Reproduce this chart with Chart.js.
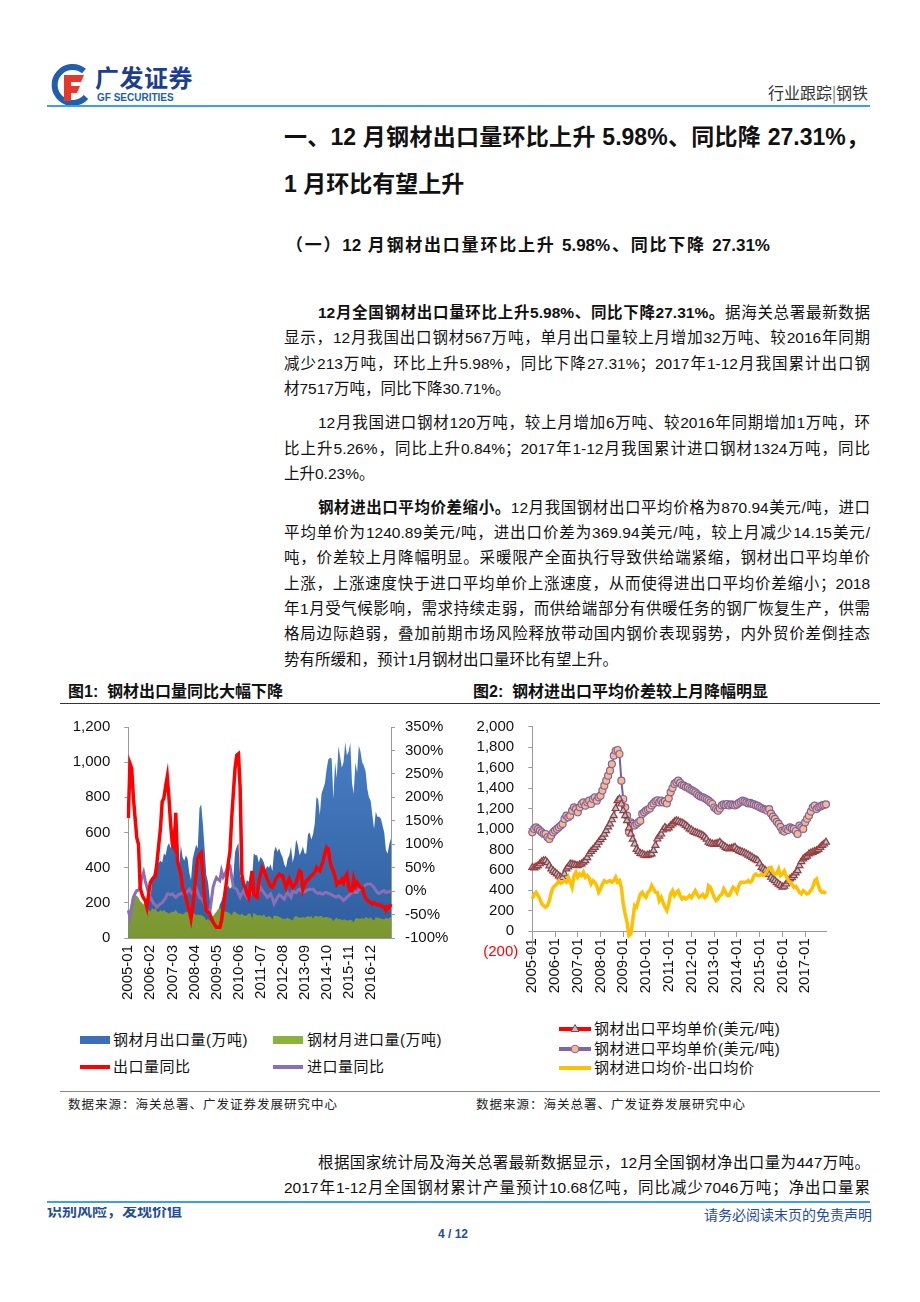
<!DOCTYPE html>
<html lang="zh-CN">
<head>
<meta charset="utf-8">
<script src="https://cdn.jsdelivr.net/npm/chart.js@4.4.1/dist/chart.umd.min.js"></script>
<style>
body { margin:0; width:920px; height:1302px; position:relative; overflow:hidden; background:#fff; color:#111;
  font-family:"Liberation Sans Narrow","Liberation Sans","Noto Sans CJK SC",sans-serif; }
.abs { position:absolute; white-space:nowrap; }
.ln { position:absolute; left:284px; width:586px; height:22px; line-height:22px; font-size:15.5px; white-space:nowrap;
  text-align:justify; text-align-last:justify; }
.ln.ind { left:318px; width:552px; }
.ln.end { text-align-last:left; }
.hline { position:absolute; height:0; }
.figt { position:absolute; font-weight:bold; font-size:16px; line-height:20px; white-space:nowrap; }
.src { position:absolute; font-size:12.5px; letter-spacing:1px; line-height:16px; white-space:nowrap; color:#222; font-family:"Noto Sans CJK SC",sans-serif; }
.lg { position:absolute; font-size:15px; line-height:20px; white-space:nowrap; font-family:"Liberation Sans","Noto Sans CJK SC",sans-serif; letter-spacing:0.5px; }
</style>
</head>
<body>

<!-- 页眉 -->
<svg class="abs" style="left:50px;top:63px" width="42" height="44" viewBox="0 0 42 44">
  <path d="M34 8 A18 18 0 1 0 36 34" fill="none" stroke="#1f5fae" stroke-width="6"/>
  <path d="M14 12 H34 L31 19 H21 V23 H30 L27 30 H21 V38 H14 Z" fill="#e8382b"/>
</svg>
<div class="abs" style="left:95px;top:63px;font-size:24px;font-weight:bold;color:#1b3e8f;font-family:'Noto Sans CJK SC',sans-serif;line-height:28px;letter-spacing:0.5px">广发证券</div>
<div class="abs" style="left:97px;top:92px;font-size:10px;font-weight:bold;color:#1b5fae;line-height:12px;font-family:'Liberation Sans',sans-serif">GF SECURITIES</div>
<div class="abs" style="right:52px;top:82px;font-size:16px;color:#333;line-height:20px;font-family:'Noto Sans CJK SC',sans-serif">行业跟踪<span style="font-weight:300">|</span>钢铁</div>
<div class="hline" style="left:47px;top:105px;width:823px;border-top:2px solid #3ea2da"></div>

<!-- 标题 -->
<div class="ln" style="left:284px;width:585px;top:122px;height:30px;line-height:30px;font-size:23px;font-weight:bold">一、12 月钢材出口量环比上升 5.98%、同比降 27.31%，</div>
<div class="ln end" style="left:284px;top:169px;height:30px;line-height:30px;font-size:23px;font-weight:bold">1 月环比有望上升</div>
<div class="ln" style="left:286px;width:484px;top:235px;font-size:17px;font-weight:bold">（一）12 月钢材出口量环比上升 5.98%、同比下降 27.31%</div>

<!-- 正文 -->
<div class="ln ind" style="top:302px"><b>12月全国钢材出口量环比上升5.98%、同比下降27.31%。</b>据海关总署最新数据</div>
<div class="ln" style="top:327px">显示，12月我国出口钢材567万吨，单月出口量较上月增加32万吨、较2016年同期</div>
<div class="ln" style="top:353px">减少213万吨，环比上升5.98%，同比下降27.31%；2017年1-12月我国累计出口钢</div>
<div class="ln end" style="top:378px">材7517万吨，同比下降30.71%。</div>

<div class="ln ind" style="top:412px">12月我国进口钢材120万吨，较上月增加6万吨、较2016年同期增加1万吨，环</div>
<div class="ln" style="top:438px">比上升5.26%，同比上升0.84%；2017年1-12月我国累计进口钢材1324万吨，同比</div>
<div class="ln end" style="top:463px">上升0.23%。</div>

<div class="ln ind" style="top:497px"><b>钢材进出口平均价差缩小。</b>12月我国钢材出口平均价格为870.94美元/吨，进口</div>
<div class="ln" style="top:522px">平均单价为1240.89美元/吨，进出口价差为369.94美元/吨，较上月减少14.15美元/</div>
<div class="ln" style="top:547px">吨，价差较上月降幅明显。采暖限产全面执行导致供给端紧缩，钢材出口平均单价</div>
<div class="ln" style="top:573px">上涨，上涨速度快于进口平均单价上涨速度，从而使得进出口平均价差缩小；2018</div>
<div class="ln" style="top:598px">年1月受气候影响，需求持续走弱，而供给端部分有供暖任务的钢厂恢复生产，供需</div>
<div class="ln" style="top:623px">格局边际趋弱，叠加前期市场风险释放带动国内钢价表现弱势，内外贸价差倒挂态</div>
<div class="ln end" style="top:649px">势有所缓和，预计1月钢材出口量环比有望上升。</div>

<!-- 图标题 -->
<div class="figt" style="left:68px;top:682px">图1:&nbsp; 钢材出口量同比大幅下降</div>
<div class="figt" style="left:473px;top:682px">图2:&nbsp; 钢材进出口平均价差较上月降幅明显</div>
<div class="hline" style="left:60px;top:703px;width:820px;border-top:1px solid #333"></div>

<div class="abs" style="left:60px;top:700px"><canvas id="chart1" width="400" height="320"></canvas></div>
<div class="abs" style="left:460px;top:700px"><canvas id="chart2" width="420" height="310"></canvas></div>

<!-- 图1 图例 -->
<div class="abs" style="left:80px;top:1036px;width:30px;height:8px;background:#3b70b8"></div>
<div class="lg" style="left:113px;top:1030px">钢材月出口量(万吨)</div>
<div class="abs" style="left:273px;top:1036px;width:30px;height:8px;background:#8db43a"></div>
<div class="lg" style="left:307px;top:1030px">钢材月进口量(万吨)</div>
<div class="abs" style="left:80px;top:1065px;width:30px;height:4px;background:#ff0000"></div>
<div class="lg" style="left:113px;top:1057px">出口量同比</div>
<div class="abs" style="left:273px;top:1065px;width:30px;height:4px;background:#8a6fb5"></div>
<div class="lg" style="left:307px;top:1057px">进口量同比</div>

<!-- 图2 图例 -->
<svg class="abs" style="left:558px;top:1021px" width="34" height="56" viewBox="0 0 34 56">
  <line x1="1" y1="8" x2="33" y2="8" stroke="#ff0000" stroke-width="4"/>
  <path d="M17 3.5 L21 10.5 H13 Z" fill="#9ccbe0" stroke="#9b3b3b" stroke-width="1"/>
  <line x1="1" y1="28" x2="33" y2="28" stroke="#7f66a8" stroke-width="4"/>
  <circle cx="17" cy="28" r="3.8" fill="#f7b98b" stroke="#8064a2" stroke-width="1"/>
  <line x1="1" y1="47" x2="33" y2="47" stroke="#ffc000" stroke-width="4"/>
</svg>
<div class="lg" style="left:594px;top:1019px">钢材出口平均单价(美元/吨)</div>
<div class="lg" style="left:594px;top:1039px">钢材进口平均单价(美元/吨)</div>
<div class="lg" style="left:594px;top:1058px">钢材进口均价-出口均价</div>

<!-- 数据来源 -->
<div class="hline" style="left:60px;top:1091px;width:820px;border-top:1px solid #8a8a8a"></div>
<div class="src" style="left:68px;top:1096px">数据来源：海关总署、广发证券发展研究中心</div>
<div class="src" style="left:476px;top:1096px">数据来源：海关总署、广发证券发展研究中心</div>

<div class="ln ind" style="top:1152px">根据国家统计局及海关总署最新数据显示，12月全国钢材净出口量为447万吨。</div>
<div class="ln" style="top:1177px">2017年1-12月全国钢材累计产量预计10.68亿吨，同比减少7046万吨；净出口量累</div>

<!-- 页脚 -->
<div class="hline" style="left:47px;top:1201px;width:823px;border-top:2px solid #3ea2da"></div>
<div class="abs" style="left:47px;top:1207px;height:13px;overflow:hidden">
  <div style="margin-top:-7px;font-size:15px;line-height:20px;font-weight:bold;color:#1f4e9a;font-family:'Noto Sans CJK SC',sans-serif">识别风险，发现价值</div>
</div>
<div class="abs" style="right:48px;top:1205px;font-size:14px;line-height:18px;color:#1f4e9a;font-family:'Noto Sans CJK SC',sans-serif">请务必阅读末页的免责声明</div>
<div class="abs" style="left:438px;top:1226px;font-size:12px;line-height:16px;font-weight:bold;color:#1f4e9a;font-family:'Liberation Sans',sans-serif">4 / 12</div>

<script>
// 月份：2005-01 至 2017-12
const years = [2005, 2006, 2007, 2008, 2009, 2010, 2011, 2012, 2013, 2014, 2015, 2016, 2017];
const months = [];
years.forEach(y => {
    for (let m = 1; m <= 12; m++) months.push(y + '-' + String(m).padStart(2, '0'));
});

// 图1：钢材月出口量(万吨)
const exportVol = [
    140, 120, 150, 170, 160, 170, 170, 190, 180, 170, 180, 200,
    240, 210, 330, 370, 400, 420, 430, 440, 430, 480, 470, 520,
    540, 510, 590, 640, 620, 635, 420, 530, 460, 440, 470, 450,
    370, 330, 450, 490, 530, 510, 740, 760, 650, 510, 360, 320,
    230, 110, 130, 120, 130, 150, 190, 210, 240, 270, 280, 300,
    280, 290, 350, 490, 520, 540, 350, 340, 320, 300, 330, 320,
    370, 330, 480, 470, 470, 430, 460, 450, 430, 390, 410, 400,
    420, 380, 490, 520, 490, 510, 480, 460, 420, 400, 450, 470,
    520, 430, 470, 560, 530, 470, 490, 520, 480, 480, 590, 600,
    560, 590, 650, 800, 790, 700, 820, 850, 880, 960, 1015, 1025,
    1020, 790, 1000, 910, 1090, 1030, 970, 1000, 1115, 1040, 1060, 1110,
    880, 820, 1000, 940, 1095, 1060, 1000, 980, 950, 850, 800, 780,
    700, 620, 720, 690, 690, 680, 640, 600, 500, 480, 535, 567
];
// 钢材月进口量(万吨)
const importVol = [
    140, 170, 220, 250, 245, 240, 230, 210, 200, 190, 200, 190,
    160, 150, 170, 160, 170, 150, 150, 160, 150, 160, 150, 145,
    140, 145, 150, 150, 160, 145, 140, 140, 135, 140, 150, 145,
    140, 130, 140, 140, 130, 135, 130, 130, 125, 120, 100, 110,
    100, 90, 120, 140, 150, 165, 170, 165, 160, 150, 150, 145,
    140, 130, 150, 150, 140, 135, 130, 140, 130, 125, 130, 140,
    140, 110, 145, 135, 130, 130, 130, 125, 135, 120, 120, 125,
    120, 105, 130, 125, 125, 120, 115, 110, 110, 110, 115, 110,
    105, 100, 120, 125, 120, 115, 115, 120, 115, 120, 125, 120,
    125, 110, 125, 125, 120, 125, 125, 115, 120, 120, 115, 115,
    110, 95, 110, 115, 105, 110, 100, 105, 105, 100, 100, 105,
    100, 90, 110, 115, 110, 110, 115, 105, 120, 115, 110, 119,
    105, 100, 120, 115, 115, 110, 110, 105, 115, 110, 114, 120
];
// 出口量同比(%)
const exportYoY = [
    156, 272, 262, 200, 156, 114, 100, 8, -6, -15, -20, -34,
    -6, 18, 25, 29, 33, 64, 100, 135, 191, 198, 223, 244,
    198, 142, 100, 93, 167, 64, 50, 36, 8, -2, -13, -30,
    -41, -59, -34, 1, 40, 70, 78, 82, 36, -20, -41, -45,
    -48, -58, -66, -72, -77, -77, -77, -63, -34, -5, 22, 60,
    85, 156, 210, 262, 290, 293, 219, 36, 15, 8, -5, -13,
    8, 43, -6, -10, -13, 20, 36, 50, 45, 36, 25, 18,
    10, 8, 15, 26, 30, 36, 33, 33, 20, 8, 18, 26,
    15, 8, 12, 18, 30, 43, 40, 4, 15, 22, 25, 29,
    33, 36, 40, 50, 45, 43, 55, 64, 80, 93, 89, 64,
    50, 43, 30, 15, 20, 18, 25, 18, 30, 36, 10, 1,
    1, 26, 11, 18, 12, 8, 8, -6, -15, -20, -22, -24,
    -27, -25, -27, -30, -29, -31, -33, -34, -41, -33, -35, -27.31
];
// 进口量同比(%)
const importYoY = [
    -41, -56, -35, -13, -5, 1, 2, 8, 29, 40, 22, 8,
    -5, -13, -20, -27, -30, -34, -30, -27, -25, -20, -15, -6,
    -6, -8, -6, -10, -13, -10, -6, -6, -3, -8, -6, 0,
    4, -2, -6, 2, 8, -3, -13, -15, -20, -28, -38, -42,
    -48, -20, 8, 20, 29, 25, 22, 43, 30, 36, 45, 57,
    54, 30, 8, 6, 4, -5, -13, -5, 1, -8, -13, -5,
    1, -5, -3, -8, -13, 0, 8, 2, -3, -8, -13, -10,
    -6, -15, -27, -20, -13, -8, -10, -14, -17, -8, -3, -8,
    -13, 1, -2, -3, 2, 4, 0, -3, -1, 1, 3, 4,
    4, 4, 0, -3, -5, -3, -6, -6, -3, -3, -5, -6,
    -8, -10, -12, -13, -10, -13, -16, -20, -17, -13, -10, -6,
    -3, 1, -3, -3, 3, 8, 9, 11, 13, 15, 15, 15,
    12, 8, 2, -3, -5, -3, 0, 1, -3, -2, -1, 0.84
];

// 图2：钢材出口平均单价(美元/吨)
const exportPrice = [
    625, 620, 630, 641, 660, 680, 690, 690, 670, 640, 609, 590,
    575, 560, 540, 528, 525, 560, 609, 630, 658, 655, 650, 645,
    641, 650, 658, 675, 690, 720, 756, 780, 800, 821, 845, 870,
    895, 918, 950, 984, 1020, 1049, 1090, 1130, 1200, 1277, 1293, 1244,
    1179, 1130, 1081, 1010, 951, 900, 853, 800, 780, 760, 756, 745,
    739, 745, 750, 756, 790, 840, 902, 930, 951, 990, 1016, 1000,
    1010, 1033, 1050, 1070, 1081, 1075, 1065, 1060, 1049, 1035, 1020, 1000,
    990, 975, 967, 960, 951, 945, 935, 920, 900, 870, 860, 853,
    850, 855, 860, 870, 850, 835, 821, 810, 805, 810, 815, 821,
    800, 788, 780, 772, 765, 756, 745, 735, 723, 710, 700, 690,
    660, 625, 610, 595, 577, 555, 528, 510, 495, 475, 460, 446,
    430, 440, 462, 490, 511, 525, 544, 570, 593, 641, 680, 707,
    723, 735, 756, 765, 772, 780, 788, 800, 821, 840, 853, 870.94
];
// 钢材进口平均单价(美元/吨)
const importPrice = [
    967, 1000, 1016, 1000, 984, 967, 951, 951, 919, 902, 935, 967,
    984, 1000, 1016, 1033, 1049, 1098, 1130, 1114, 1130, 1179, 1212, 1195,
    1163, 1212, 1244, 1261, 1228, 1261, 1277, 1244, 1293, 1309, 1277, 1309,
    1326, 1375, 1423, 1472, 1521, 1570, 1635, 1717, 1765, 1772, 1733, 1472,
    1293, 1212, 1130, 970, 1065, 1049, 1033, 1050, 1065, 1080, 1147, 1163,
    1179, 1190, 1200, 1230, 1250, 1270, 1280, 1260, 1277, 1260, 1270, 1250,
    1300, 1358, 1400, 1440, 1456, 1472, 1450, 1430, 1423, 1410, 1407, 1391,
    1380, 1370, 1358, 1340, 1326, 1315, 1309, 1300, 1290, 1277, 1260, 1244,
    1210, 1195, 1179, 1200, 1230, 1240, 1235, 1244, 1230, 1240, 1235, 1230,
    1240, 1255, 1265, 1277, 1270, 1260, 1250, 1255, 1245, 1240, 1230, 1225,
    1212, 1205, 1195, 1190, 1179, 1195, 1150, 1120, 1098, 1070, 1049, 1020,
    984, 975, 1000, 990, 1016, 1005, 1000, 980, 951, 1033, 1016, 1000,
    1065, 1100, 1130, 1170, 1212, 1228, 1195, 1212, 1220, 1230, 1235, 1240.89
];
// 钢材进口均价-出口均价
const priceGap = [
    316, 365, 381, 349, 316, 267, 251, 235, 251, 300, 381, 430,
    446, 463, 495, 469, 479, 495, 480, 528, 480, 430, 544, 577,
    528, 560, 544, 577, 528, 545, 520, 463, 495, 479, 446, 381,
    414, 463, 495, 479, 485, 495, 480, 495, 528, 479, 495, 430,
    267, 169, 88, -42, -26, 104, 251, 235, 300, 365, 381, 349,
    332, 381, 397, 446, 414, 381, 380, 300, 332, 283, 235, 202,
    267, 365, 397, 349, 381, 397, 349, 316, 332, 316, 330, 349,
    330, 365, 397, 360, 332, 345, 360, 330, 345, 446, 430, 381,
    332, 300, 316, 349, 360, 414, 380, 349, 350, 397, 430, 415,
    381, 446, 479, 480, 478, 480, 495, 480, 495, 544, 560, 545,
    545, 560, 545, 560, 593, 620, 625, 577, 560, 565, 609, 544,
    560, 590, 540, 500, 479, 460, 430, 440, 414, 381, 365, 397,
    381, 365, 375, 400, 430, 495, 511, 446, 397, 381, 384, 369.94
];

Chart.defaults.font.family = '"Liberation Sans", Arial, sans-serif';
Chart.defaults.font.size = 15;
Chart.defaults.color = '#111';

const axisGray = '#9a9a9a';

function vGrad(chart, top, bottom) {
    const area = chart.chartArea;
    if (!area) return top;
    const g = chart.ctx.createLinearGradient(0, area.top, 0, area.bottom);
    g.addColorStop(0, top);
    g.addColorStop(1, bottom);
    return g;
}

// 图1：钢材出口量同比大幅下降
const chart1 = new Chart(document.getElementById('chart1').getContext('2d'), {
    type: 'line',
    data: {
        labels: months,
        datasets: [{
            label: '出口量同比',
            data: exportYoY,
            yAxisID: 'y1',
            borderColor: '#ff0000',
            borderWidth: 3.5,
            pointRadius: 0,
            fill: false,
            order: 0
        }, {
            label: '进口量同比',
            data: importYoY,
            yAxisID: 'y1',
            borderColor: '#8a6fb5',
            borderWidth: 3,
            pointRadius: 0,
            fill: false,
            order: 1
        }, {
            label: '钢材月进口量(万吨)',
            data: importVol,
            yAxisID: 'y',
            backgroundColor: c => vGrad(c.chart, '#97bd3d', '#7a9632'),
            borderColor: 'rgba(0,0,0,0)',
            borderWidth: 1,
            pointRadius: 0,
            fill: 'origin',
            order: 2
        }, {
            label: '钢材月出口量(万吨)',
            data: exportVol,
            yAxisID: 'y',
            backgroundColor: c => vGrad(c.chart, '#4a80c6', '#2f5e9f'),
            borderColor: 'rgba(0,0,0,0)',
            borderWidth: 1,
            pointRadius: 0,
            fill: 'origin',
            order: 3
        }]
    },
    options: {
        responsive: false,
        animation: false,
        devicePixelRatio: 1,
        layout: { padding: { top: 27, left: 0, right: 0, bottom: 0 } },
        plugins: { legend: { display: false }, tooltip: { enabled: false } },
        scales: {
            x: {
                offset: false,
                grid: { display: false, drawTicks: false },
                border: { display: true, color: axisGray, width: 1 },
                ticks: {
                    autoSkip: false,
                    minRotation: 90,
                    maxRotation: 90,
                    padding: 7,
                    callback: function (v, i) { return i % 13 === 0 ? this.getLabelForValue(v) : ''; }
                },
                afterFit: s => { s.height = 82; }
            },
            y: {
                position: 'left',
                min: 0,
                max: 1200,
                grid: { drawOnChartArea: false, tickLength: 4, color: axisGray },
                border: { color: axisGray },
                ticks: { stepSize: 200, autoSkip: false, padding: 14, callback: v => v.toLocaleString('en-US') },
                afterFit: s => { s.width = 68.3; }
            },
            y1: {
                position: 'right',
                min: -100,
                max: 350,
                grid: { drawOnChartArea: false, tickLength: 4, color: axisGray },
                border: { color: axisGray },
                ticks: { stepSize: 50, autoSkip: false, padding: 10, callback: v => v + '%' },
                afterFit: s => { s.width = 69; }
            }
        }
    }
});

// 图2：钢材进出口平均价差较上月降幅明显
const chart2 = new Chart(document.getElementById('chart2').getContext('2d'), {
    type: 'line',
    data: {
        labels: months,
        datasets: [{
            label: '钢材进口均价-出口均价',
            data: priceGap,
            borderColor: '#ffc000',
            borderWidth: 3.5,
            pointRadius: 0,
            order: 0
        }, {
            label: '钢材出口平均单价(美元/吨)',
            data: exportPrice,
            borderColor: '#ff0000',
            borderWidth: 1.5,
            pointStyle: 'triangle',
            pointRadius: 4,
            pointBackgroundColor: '#9ccbe0',
            pointBorderColor: '#9b3b3b',
            pointBorderWidth: 1.2,
            order: 1
        }, {
            label: '钢材进口平均单价(美元/吨)',
            data: importPrice,
            borderColor: '#7060a8',
            borderWidth: 2,
            pointStyle: 'circle',
            pointRadius: 3.5,
            pointBackgroundColor: '#f7b98b',
            pointBorderColor: '#8064a2',
            pointBorderWidth: 1.2,
            order: 2
        }]
    },
    options: {
        responsive: false,
        animation: false,
        devicePixelRatio: 1,
        layout: { padding: { top: 26.7, left: 0, right: 54, bottom: 58.3 } },
        plugins: { legend: { display: false }, tooltip: { enabled: false } },
        scales: {
            x: {
                position: { y: 0 },
                offset: false,
                grid: {
                    drawOnChartArea: false,
                    tickLength: 5,
                    tickColor: c => (c.index % 12 === 0 ? axisGray : 'rgba(0,0,0,0)')
                },
                border: { display: true, color: axisGray, width: 1 },
                ticks: {
                    autoSkip: false,
                    minRotation: 90,
                    maxRotation: 90,
                    padding: 2,
                    callback: function (v, i) { return i % 12 === 0 ? this.getLabelForValue(v) : ''; }
                }
            },
            y: {
                position: 'left',
                min: -200,
                max: 2000,
                grid: { drawOnChartArea: false, tickLength: 4, color: axisGray },
                border: { color: axisGray },
                ticks: {
                    stepSize: 200,
                    autoSkip: false,
                    padding: 10,
                    color: c => (c.tick && c.tick.value < 0 ? '#ff0000' : '#111'),
                    callback: v => (v < 0 ? '(' + Math.abs(v) + ')' : v.toLocaleString('en-US') + ' ')
                },
                afterFit: s => { s.width = 72.3; }
            }
        }
    }
});
</script>
</body>
</html>
